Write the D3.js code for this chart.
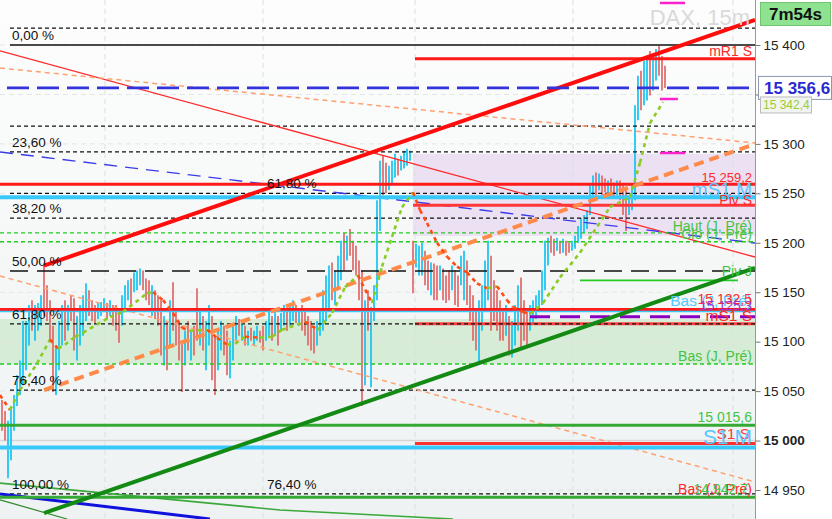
<!DOCTYPE html>
<html><head><meta charset="utf-8">
<script src="https://cdn.jsdelivr.net/npm/d3@7"></script>
<style>body{margin:0;background:#fff;} svg{display:block;font-family:"Liberation Sans",Arial,sans-serif;}</style>
</head><body><svg id="c" width="832" height="519"></svg>
<script>
// ---------------- DATA ----------------
const barHigh = [
15041,15030,15020,15035,15046,15066,15081,15121,15121,15137,
15142,15137,15139,15147,15177,15157,15142,15116,15096,15121,
15137,15142,15137,15147,15144,15126,15137,15147,15159,15152,
15142,15137,15139,15140,15144,15139,15142,15137,15137,15132,
15147,15157,15162,15164,15170,15172,15174,15172,15164,15162,
15157,15152,15147,15142,15126,15121,15142,15160,15132,15121,
15101,15111,15121,15111,15116,15154,15132,15126,15121,15137,
15126,15106,15111,15121,15116,15111,15101,15116,15126,15123,
15119,15116,15111,15114,15111,15116,15111,15116,15121,15132,
15126,15132,15126,15129,15137,15134,15137,15142,15137,15134,
15137,15132,15126,15121,15116,15121,15132,15152,15167,15177,
15180,15172,15187,15202,15210,15207,15214,15202,15197,15182,
15172,15142,15152,15135,15157,15243,15283,15288,15281,15278,
15283,15290,15285,15288,15293,15295,15293,15202,15199,15197,
15200,15192,15182,15180,15179,15177,15177,15174,15167,15172,
15177,15172,15167,15187,15192,15182,15157,15147,15132,15142,
15157,15182,15202,15187,15162,15152,15142,15132,15137,15126,
15121,15137,15157,15165,15142,15132,15137,15142,15147,15152,
15172,15202,15205,15207,15204,15205,15202,15204,15202,15200,
15202,15207,15217,15225,15228,15233,15258,15268,15271,15270,
15268,15265,15263,15265,15261,15263,15263,15258,15253,15248,
15258,15339,15369,15374,15384,15389,15394,15389,15396,15399,
15389,15379];
const barLow = [
15010,15000,14962,14980,15010,15035,15046,15056,15071,15096,
15111,15101,15111,15116,15126,15121,15101,15049,15046,15071,
15096,15101,15111,15121,15091,15081,15096,15106,15121,15126,
15121,15118,15123,15126,15130,15123,15126,15116,15111,15099,
15116,15132,15142,15137,15150,15152,15157,15152,15142,15137,
15126,15123,15116,15086,15076,15071,15096,15111,15096,15081,
15049,15076,15091,15081,15086,15101,15096,15091,15071,15096,
15061,15046,15071,15091,15086,15066,15063,15081,15101,15106,
15101,15096,15096,15101,15096,15101,15099,15091,15101,15106,
15101,15106,15096,15111,15116,15111,15116,15121,15119,15116,
15111,15106,15096,15091,15088,15096,15106,15111,15121,15132,
15142,15137,15152,15162,15172,15182,15187,15172,15167,15142,
15035,15056,15111,15054,15121,15142,15212,15248,15250,15253,
15258,15266,15268,15273,15275,15278,15283,15149,15175,15167,
15167,15157,15152,15147,15142,15142,15152,15142,15139,15142,
15152,15137,15135,15157,15142,15137,15121,15101,15091,15078,
15111,15132,15142,15111,15121,15111,15101,15101,15106,15086,
15084,15096,15111,15094,15101,15096,15111,15119,15123,15130,
15137,15152,15177,15190,15187,15192,15189,15190,15187,15190,
15192,15194,15200,15204,15210,15214,15228,15243,15248,15253,
15248,15251,15248,15250,15246,15248,15243,15228,15212,15228,
15233,15243,15324,15334,15339,15344,15349,15354,15364,15369,
15354,15356.6];
const barDir = ("dduuuuuuuu"+"duuudddduu"+"ududduuuud"+"dduuududdd"+"uuuduuuddd"+
  "udddududdd"+"dududduduu"+"dduudduuud"+"ududuudduu"+"duduuduudu"+
  "ddddduuuuu"+"duuududddd"+"duduuuuddu"+"uuduuuuduu"+"uddudduddd"+
  "udduuddddu"+"uuudddddud"+"uuuddduuuu"+"uuuddududd"+"uuuuuuuudu"+
  "dduddudddu"+"uuuduuduud"+"dd").split("");

// moving average (bar index, value)
const maIdx = [-0.67,2.67,6,11.67,16,18.67,21,24.33,27,36,40.33,48.33,50.33,53.67,57,60,62.67,68.33,71.67,75,77.67,81,86,90,93.33,101,105.33,110,114.33,118.67,123.33,126.67,130,133.33,137,139.33,141.67,145,148.33,151.67,155,158.33,161.67,165,168.33,170.33,173.67,176,180.33,186,192.67,197,202.67,209.33,212.67,216,220.33];
const maVal = [15046,15031,15051,15078,15102,15093,15097,15105,15109,15125,15130,15149,15150,15142,15129,15114,15111,15112,15104,15097,15098,15105,15104,15105,15112,15120,15112,15129,15155,15167,15139,15176,15206,15236,15251,15233,15220,15200,15186,15176,15170,15159,15154,15156,15142,15135,15130,15128,15139,15165,15190,15210,15236,15246,15281,15321,15342.4];

const yTicks = [14950,15000,15050,15100,15150,15200,15250,15300,15350,15400];
const vGridIdx = [34.33, 87, 137.67, 190.33, 243.67];

const fibLabels = ["0,00 %","23,60 %","38,20 %","50,00 %","61,80 %","76,40 %","100,00 %"];
const fibPrices = [15400, 15292, 15225, 15171.5, 15118, 15051, 14946];
const fib2Labels = ["61,80 %","76,40 %"];
const fib2Prices = [15250, 14946];
const dashedLevels = [15417, 15318, 15292, 15250, 15225, 15118, 15051, 14946];

const currentPrice = 15356.6;
const maLast = 15342.4;
const timerText = "7m54s";
const titleText = "DAX, 15m";

// horizontal levels: price, start bar index
const levelPrices = [15386, 15259.2, 15246, 15238, 15210, 15201, 15162, 15132.5, 15130.5, 15125.3, 15118, 15077.4, 15015.6, 14997, 14993, 14942.7];
const levelStart  = [137.67, -0.67, -0.67, 137, -0.67, -0.67, 192.67, -0.67, -0.67, 176, 137.67, -0.67, -0.67, 137.67, -0.67, -0.67];
const levelEnd    = [251, 251, 251, 251, 251, 251, 245.33, 251, 251, 251, 251, 251, 251, 251, 251, 251];
const levelTexts  = ["mR1 S","15 259,2","mS1 M","Piv S","Haut (J, Pré)","Clo (J, Pré)","Piv J","Bas (J, Pré)","15 132,5","15 125,3","mS1 S","Bas (J, Pré)","15 015,6","S1 S","S1 M","Bas (J, Pré)","14 942,7"];
const levelTextPrice = [15386, 15259.2, 15246, 15238, 15210, 15201, 15162, 15132.5, 15132.5, 15125.3, 15118, 15077.4, 15015.6, 14997, 14993, 14942.7, 14942.7];

const purpleZone = [137, 251, 15290, 15207];
const greenZone  = [-0.67, 251, 15123, 15077.4];

const redChannel   = [[14, 15177], [251, 15425.3]];
const greenChannel = [[14, 14926.7], [251, 15174.5]];
const redThin      = [[-0.67, 15394], [251, 15185.6]];
const orangeThinTop= [[-0.67, 15376.7], [251, 15300.9]];
const orangeThinBot= [[-0.67, 15166.4], [251, 14958.1]];
const blueDashed   = [[-0.67, 15291.8], [251, 15199.8]];
const orangeThick  = [[14, 15051.1], [251, 15299.9]];
const blueBottom   = [[-0.67, 14946], [69.3, 14920.7]];
const greenThinA   = [[-0.67, 14957], [92.67, 14929.8], [150.33, 14920.7]];
const greenThinB   = [[-0.67, 14940], [21.7, 14920.7]];
const magentaMarks = [[219.3, 227.7, 15442.5], [219.3, 225.3, 15345.4], [219.3, 227.7, 15290.8]];

// ---------------- DRAW ----------------
const svg = d3.select("#c");
const PR = 755;
const x = d3.scaleLinear().domain([0, 221]).range([2, 665]);
const y = d3.scaleLinear().domain([14950, 15400]).range([490, 45]);
const line = d3.line().x(d => x(d[0])).y(d => y(d[1]));

const defs = svg.append("defs");
const gr = defs.append("linearGradient").attr("id","bg").attr("x1",0).attr("y1",0).attr("x2",0).attr("y2",1);
gr.append("stop").attr("offset","0%").attr("stop-color","#fdfdfd");
gr.append("stop").attr("offset","100%").attr("stop-color","#eef2f2");
defs.append("clipPath").attr("id","clip").append("rect").attr("x",0).attr("y",0).attr("width",PR).attr("height",519);

svg.append("rect").attr("x",0).attr("y",0).attr("width",832).attr("height",519).attr("fill","#fff");
svg.append("rect").attr("x",0).attr("y",0).attr("width",PR).attr("height",519).attr("fill","url(#bg)");

const g = svg.append("g").attr("clip-path","url(#clip)");

// zones
function zone(z, col){
  g.append("rect").attr("x", x(z[0])).attr("width", x(z[1]) - x(z[0]))
   .attr("y", y(z[2])).attr("height", y(z[3]) - y(z[2])).attr("fill", col);
}
zone(purpleZone, "#ece0f3");
zone(greenZone, "#d6ecd6");

// grid
vGridIdx.forEach(v => g.append("line").attr("x1",x(v)).attr("x2",x(v)).attr("y1",0).attr("y2",519)
  .attr("stroke","#dedede").attr("stroke-dasharray","5,4"));
yTicks.concat([15450]).forEach(p => g.append("line").attr("x1",0).attr("x2",PR).attr("y1",y(p)).attr("y2",y(p))
  .attr("stroke", p===15000 ? "#d6d6d6" : "#e4e4e4").attr("stroke-width", p===15000?1.5:1)
  .attr("stroke-dasharray", p===15000 ? null : "5,4"));

// bars
g.selectAll(".bar").data(barHigh).enter().append("line")
  .attr("x1",(d,i)=>x(i)).attr("x2",(d,i)=>x(i))
  .attr("y1",d=>y(d)).attr("y2",(d,i)=>y(barLow[i]))
  .attr("stroke",(d,i)=>barDir[i]==="u" ? "#12c3f2" : "#e06868")
  .attr("stroke-width",1.7);

// fib lines
const f0 = 2.67;
dashedLevels.forEach(p => g.append("line").attr("x1",x(f0)).attr("x2",PR).attr("y1",y(p)).attr("y2",y(p))
  .attr("stroke","#111").attr("stroke-width",1.2).attr("stroke-dasharray","4,3"));
g.append("line").attr("x1",x(f0)).attr("x2",PR).attr("y1",y(fibPrices[0])).attr("y2",y(fibPrices[0]))
  .attr("stroke","#111").attr("stroke-width",1.3);
g.append("line").attr("x1",x(f0)).attr("x2",PR).attr("y1",y(fibPrices[3])).attr("y2",y(fibPrices[3]))
  .attr("stroke","#111").attr("stroke-width",1.5).attr("stroke-dasharray","18,9");

// thin diagonals
g.append("path").attr("d",line(redThin)).attr("fill","none").attr("stroke","#ff2a2a").attr("stroke-width",1.3);
g.append("path").attr("d",line(orangeThinTop)).attr("fill","none").attr("stroke","#ffa070").attr("stroke-width",1.5).attr("stroke-dasharray","5,4");
g.append("path").attr("d",line(orangeThinBot)).attr("fill","none").attr("stroke","#ffa070").attr("stroke-width",1.5).attr("stroke-dasharray","5,4");
g.append("path").attr("d",line(blueDashed)).attr("fill","none").attr("stroke","#3a3ae8").attr("stroke-width",1.4).attr("stroke-dasharray","13,8");
g.append("path").attr("d",line(greenThinA)).attr("fill","none").attr("stroke","#3aa83a").attr("stroke-width",1.6);
g.append("path").attr("d",line(greenThinB)).attr("fill","none").attr("stroke","#2a8a2a").attr("stroke-width",1.2);
g.append("path").attr("d",line(blueBottom)).attr("fill","none").attr("stroke","#1111dd").attr("stroke-width",3);

// level line styles
const lvlStyle = [
  {c:"#ff1a1a", w:3},              // mR1 S
  {c:"#ff1a1a", w:3},              // 15259.2
  {c:"#38c8fa", w:4},              // mS1 M
  {c:"#ff3636", w:3},              // Piv S
  {c:"#22cc22", w:1.4, d:"4,3"},   // Haut
  {c:"#22cc22", w:1.4, d:"4,3"},   // Clo
  {c:"#22cc22", w:1.6},            // Piv J
  {c:"#ff1a1a", w:3},              // 15132.5
  {c:"#38c8fa", w:1.5},            // cyan thin
  {c:"#8a00c0", w:3, d:"20,10"},   // 15125.3
  {c:"#ff4040", w:3},              // mS1 S
  {c:"#22cc22", w:1.4, d:"4,3"},   // Bas J
  {c:"#34aa34", w:3},              // 15015.6
  {c:"#ff3030", w:3},              // S1 S
  {c:"#38c8fa", w:4},              // S1 M
  {c:"#34aa34", w:3}               // 14942.7
];
levelPrices.forEach((p,i) => {
  const s = lvlStyle[i];
  g.append("line").attr("x1",x(levelStart[i])).attr("x2",x(levelEnd[i])).attr("y1",y(p)).attr("y2",y(p))
   .attr("stroke",s.c).attr("stroke-width",s.w).attr("stroke-dasharray",s.d||null);
});
// black dash over mS1 S red line
g.append("line").attr("x1",x(137.67)).attr("x2",PR).attr("y1",y(15118)).attr("y2",y(15118))
  .attr("stroke","#111").attr("stroke-width",1.2).attr("stroke-dasharray","4,3");

// thick diagonals
g.append("path").attr("d",line(orangeThick)).attr("fill","none").attr("stroke","#ff8a4a").attr("stroke-width",4).attr("stroke-dasharray","10,6");
g.append("path").attr("d",line(redChannel)).attr("fill","none").attr("stroke","#ff0d0d").attr("stroke-width",4);
g.append("path").attr("d",line(greenChannel)).attr("fill","none").attr("stroke","#138a13").attr("stroke-width",4);

// current price line
g.append("line").attr("x1",7).attr("x2",PR).attr("y1",y(currentPrice)).attr("y2",y(currentPrice))
  .attr("stroke","#3333dd").attr("stroke-width",2.7).attr("stroke-dasharray","22,8");

// moving average coloured by slope
for (let i=0;i<maIdx.length-1;i++){
  const up = maVal[i+1] >= maVal[i];
  g.append("line").attr("x1",x(maIdx[i])).attr("y1",y(maVal[i])).attr("x2",x(maIdx[i+1])).attr("y2",y(maVal[i+1]))
   .attr("stroke", up ? "#8acc22" : "#ff4a14").attr("stroke-width",2.6).attr("stroke-dasharray","4,4");
}

// magenta marks
magentaMarks.forEach(m => g.append("line").attr("x1",x(m[0])).attr("x2",x(m[1])).attr("y1",y(m[2])).attr("y2",y(m[2]))
  .attr("stroke","#ff22cc").attr("stroke-width",2.5));

// fib labels
fibLabels.forEach((t,i) => g.append("text").attr("x",x(f0)+2).attr("y",y(fibPrices[i])-5)
  .attr("font-size",13.5).attr("fill","#111").text(t));
fib2Labels.forEach((t,i) => g.append("text").attr("x",x(88.33)).attr("y",y(fib2Prices[i])-5)
  .attr("font-size",13.5).attr("fill","#111").text(t));

// level labels
const lblStyle = [
  {c:"#ff2a2a", s:14, dy:-3},
  {c:"#ff2a2a", s:13, dy:-2},
  {c:"#55c8ff", s:19, dy:-1},
  {c:"#ff2a2a", s:14, dy:0},
  {c:"#44c444", s:14, dy:-2},
  {c:"#44c444", s:14, dy:-3},
  {c:"#44c444", s:14, dy:-4},
  {c:"#55c8ff", s:15.5, dy:-3.5},
  {c:"#ff2a2a", s:14, dy:-6},
  {c:"#9a30d0", s:13.5, dy:-6.5},
  {c:"#ff2a2a", s:15.5, dy:-2.5},
  {c:"#44c444", s:14, dy:-3},
  {c:"#44c444", s:14, dy:-3},
  {c:"#ff3a3a", s:15.5, dy:-5},
  {c:"#55c8ff", s:21, dy:-3},
  {c:"#ff2a2a", s:14, dy:-3},
  {c:"#44c444", s:14, dy:-3}
];
levelTexts.forEach((t,i) => {
  const s = lblStyle[i];
  svg.append("text").attr("x", i===13 ? 750 : (i===16 ? 748 : 752)).attr("y", y(levelTextPrice[i]) + s.dy)
    .attr("text-anchor","end").attr("font-size",s.s).attr("fill",s.c).text(t);
});

// title
svg.append("text").attr("x",750).attr("y",25).attr("text-anchor","end").attr("font-size",22)
  .attr("fill","#d9d9d9").text(titleText);

// axis
svg.append("line").attr("x1",PR+0.5).attr("x2",PR+0.5).attr("y1",0).attr("y2",519).attr("stroke","#999");
const loc = d3.formatLocale({decimal:",", thousands:" ", grouping:[3], currency:["",""]});
const fmt = loc.format(",.0f");
const ax = svg.append("g").attr("transform",`translate(${PR+0.5},0)`)
  .call(d3.axisRight(y).tickValues(yTicks).tickSize(5).tickFormat(fmt));
ax.select(".domain").remove();
ax.selectAll(".tick line").attr("stroke","#777");
ax.selectAll(".tick text").attr("font-size",13.5).attr("fill","#222").attr("x",8)
  .attr("font-family","Liberation Sans, Arial, sans-serif")
  .attr("font-weight", d => d===15000 ? "bold" : null);

// current price box
const fmt1 = loc.format(",.1f");
const cy = y(currentPrice);
svg.append("rect").attr("x",758.5).attr("y",cy-11.5).attr("width",73).attr("height",23)
  .attr("fill","#fff").attr("stroke","#8a98b0");
svg.append("text").attr("x",764).attr("y",cy+6).attr("font-size",17).attr("font-weight","bold")
  .attr("fill","#2a2ad0").text(fmt1(currentPrice));
// ma value box
const my = y(maLast);
svg.append("rect").attr("x",760.5).attr("y",my-5).attr("width",51).attr("height",16)
  .attr("fill","#f2f4f2").attr("stroke","#bbb");
svg.append("text").attr("x",763).attr("y",my+7.5).attr("font-size",12).attr("fill","#99cc33").text(fmt1(maLast));

// timer
svg.append("rect").attr("x",760.5).attr("y",2.5).attr("width",70).attr("height",23)
  .attr("fill","#8fe28f").attr("stroke","#6fc66f");
svg.append("text").attr("x",795.5).attr("y",20).attr("text-anchor","middle").attr("font-size",17)
  .attr("font-weight","bold").attr("fill","#111").text(timerText);
</script></body></html>
